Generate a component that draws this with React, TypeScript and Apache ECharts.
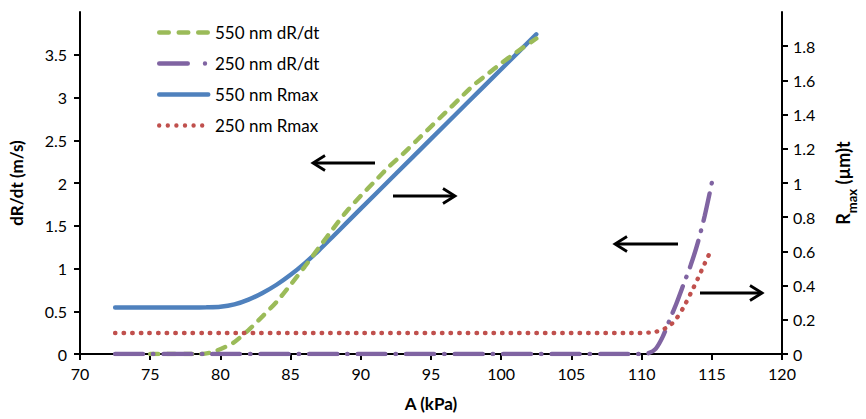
import React, { useEffect, useRef } from "react";
import * as echarts from "echarts";

const greenX = [75, 76, 77, 78, 78.7, 79.5, 80.4, 81, 82, 83, 84, 85, 86, 87, 88, 89, 90, 91, 92, 93, 94, 95, 96, 97, 98, 99, 100, 101, 102.5];
const greenY = [0, 0, 0, 0, 0, 0.025, 0.086, 0.14, 0.28, 0.44, 0.61, 0.81, 1.02, 1.24, 1.46, 1.67, 1.85, 2.02, 2.19, 2.34, 2.5, 2.66, 2.82, 2.98, 3.14, 3.27, 3.4, 3.52, 3.69];

const purpleX = [72.5, 80, 90, 100, 110, 110.5, 111, 111.5, 112, 112.5, 113, 113.5, 114, 114.5, 115];
const purpleY = [0, 0, 0, 0, 0, 0.01, 0.06, 0.2, 0.4, 0.6, 0.82, 1.04, 1.3, 1.62, 2.0];

const blueX = [72.5, 75, 78, 79, 80, 81, 82, 83, 84, 85, 86, 87, 88, 89, 90, 92.5, 95, 97.5, 100, 102.5];
const blueY = [0.272, 0.272, 0.272, 0.273, 0.276, 0.29, 0.318, 0.357, 0.405, 0.463, 0.53, 0.605, 0.686, 0.768, 0.85, 1.054, 1.258, 1.462, 1.665, 1.87];

const redX = [72.5, 80, 90, 100, 110, 110.5, 111, 111.5, 112, 112.5, 113, 113.5, 114, 114.5, 115];
const redY = [0.123, 0.123, 0.123, 0.123, 0.123, 0.125, 0.13, 0.143, 0.165, 0.21, 0.275, 0.355, 0.44, 0.53, 0.615];

const seriesNames = ["550 nm dR/dt", "250 nm dR/dt", "550 nm Rmax", "250 nm Rmax"];

const zip = (xs: number[], ys: number[]) => xs.map((x, i) => [x, ys[i]]);

const FONT = "Lato";

// legend icon paths (54 x 4.4 box), rounded dashes / dots
const R = 2.2;
const H = 4.4;
function seg(a: number, b: number) {
  return `M${a + R} 0 L${b - R} 0 A${R} ${R} 0 0 1 ${b - R} ${H} L${a + R} ${H} A${R} ${R} 0 0 1 ${a + R} 0 Z `;
}
function dot(c: number) {
  return `M${c - R} ${R} A${R} ${R} 0 1 0 ${c + R} ${R} A${R} ${R} 0 1 0 ${c - R} ${R} Z `;
}
const bounds = "M54 0 L54.01 0 L54.01 0.01 Z M54 4.39 L54.01 4.39 L54.01 4.4 Z ";
const iconGreen = "path://" + seg(0, 14) + seg(19.5, 33.5) + seg(39, 53) + bounds;
const iconPurple = "path://" + seg(0, 33) + dot(48) + bounds;
const iconBlue = "path://" + seg(0, 53.5) + bounds;
const iconRed = "path://" + [2.2, 10.8, 19.4, 28, 36.6, 45.2].map(dot).join("") + bounds;

function arrow(x1: number, x2: number, y: number) {
  const dir = x2 > x1 ? 1 : -1;
  const hl = 12;
  const hh = 7.5;
  return {
    type: "group",
    children: [
      { type: "line", shape: { x1, y1: y, x2: x2 - dir * 1, y2: y }, style: { stroke: "#000", lineWidth: 2.8 } },
      {
        type: "polyline",
        shape: { points: [[x2 - dir * hl, y - hh], [x2, y], [x2 - dir * hl, y + hh]] },
        style: { stroke: "#000", lineWidth: 2.8, fill: null },
      },
    ],
  };
}

export default function App() {
  const ref = useRef<HTMLDivElement>(null);
  useEffect(() => {
    if (!ref.current) return;
    const chart = echarts.init(ref.current, null, { renderer: "svg" });
    const axisText = { color: "#000", fontFamily: FONT, fontSize: 16 };
    const titleText = { color: "#000", fontFamily: FONT, fontSize: 17, fontWeight: "bold" };
    const common = {
      showSymbol: false,
      symbol: "none",
      smooth: 0.25,
      type: "line",
    };
    chart.setOption({
      animation: false,
      textStyle: { fontFamily: FONT },
      grid: { left: 80, right: 80, top: 12, bottom: 65 },
      legend: {
        orient: "vertical",
        left: 152,
        top: 19,
        itemWidth: 54,
        itemHeight: 14,
        itemGap: 14,
        symbolKeepAspect: true,
        itemStyle: { borderWidth: 0 },
        textStyle: { ...axisText, fontSize: 17, padding: [0, 0, 0, -1] },
        data: [
          { name: seriesNames[0], icon: iconGreen },
          { name: seriesNames[1], icon: iconPurple },
          { name: seriesNames[2], icon: iconBlue },
          { name: seriesNames[3], icon: iconRed },
        ],
      },
      xAxis: {
        type: "value",
        min: 70,
        max: 120,
        interval: 5,
        name: "A (kPa)",
        nameLocation: "middle",
        nameGap: 41,
        nameTextStyle: titleText,
        axisLine: { lineStyle: { color: "#000", width: 2 } },
        axisTick: { length: 6, lineStyle: { color: "#000", width: 2 } },
        axisLabel: { ...axisText, margin: 11 },
        splitLine: { show: false },
      },
      yAxis: [
        {
          type: "value",
          min: 0,
          max: 4,
          interval: 0.5,
          name: "dR/dt (m/s)",
          nameLocation: "middle",
          nameGap: 55,
          nameTextStyle: titleText,
          axisLine: { show: true, lineStyle: { color: "#000", width: 2 } },
          axisTick: { show: true, length: 6, lineStyle: { color: "#000", width: 2 } },
          axisLabel: { ...axisText, margin: 13, showMaxLabel: false },
          splitLine: { show: false },
        },
        {
          type: "value",
          min: 0,
          max: 2,
          interval: 0.2,
          position: "right",
          name: "{a|R}{s|max}{a| (µm)t}",
          nameLocation: "middle",
          nameGap: 52,
          nameRotate: 90,
          nameTextStyle: {
            ...titleText,
            rich: {
              a: { fontFamily: FONT, fontSize: 18, fontWeight: "bold", color: "#000", verticalAlign: "top", lineHeight: 24 },
              s: { fontFamily: FONT, fontSize: 13, fontWeight: "bold", color: "#000", verticalAlign: "bottom", lineHeight: 24, padding: [11, 0, 0, 0] },
            },
          },
          axisLine: { show: true, lineStyle: { color: "#000", width: 2 } },
          axisTick: { show: true, length: 6, lineStyle: { color: "#000", width: 2 } },
          axisLabel: { ...axisText, margin: 11, showMaxLabel: false },
          splitLine: { show: false },
        },
      ],
      series: [
        {
          ...common,
          name: seriesNames[0],
          yAxisIndex: 0,
          color: "#9BBB59",
          lineStyle: { color: "#9BBB59", width: 4.4, type: [8, 9], cap: "round" },
          data: zip(greenX, greenY),
          z: 3,
        },
        {
          ...common,
          name: seriesNames[1],
          yAxisIndex: 0,
          color: "#8064A2",
          lineStyle: { color: "#8064A2", width: 4.4, type: [28, 10, 0.5, 10], cap: "round" },
          data: zip(purpleX, purpleY),
          z: 3,
        },
        {
          ...common,
          name: seriesNames[2],
          yAxisIndex: 1,
          color: "#4F81BD",
          lineStyle: { color: "#4F81BD", width: 4.4, cap: "round" },
          data: zip(blueX, blueY),
          z: 2,
        },
        {
          ...common,
          name: seriesNames[3],
          yAxisIndex: 1,
          color: "#C0504D",
          lineStyle: { color: "#C0504D", width: 4.4, type: [0.5, 8.1], cap: "round" },
          data: zip(redX, redY),
          z: 4,
        },
      ],
      graphic: [
        arrow(375, 313, 163),
        arrow(393, 455, 196),
        arrow(678, 615, 244),
        arrow(700, 762, 293),
      ],
    });
    return () => chart.dispose();
  }, []);
  return <div ref={ref} style={{ position: "fixed", left: 0, top: 0, width: 866, height: 419, background: "#fff" }} />;
}
